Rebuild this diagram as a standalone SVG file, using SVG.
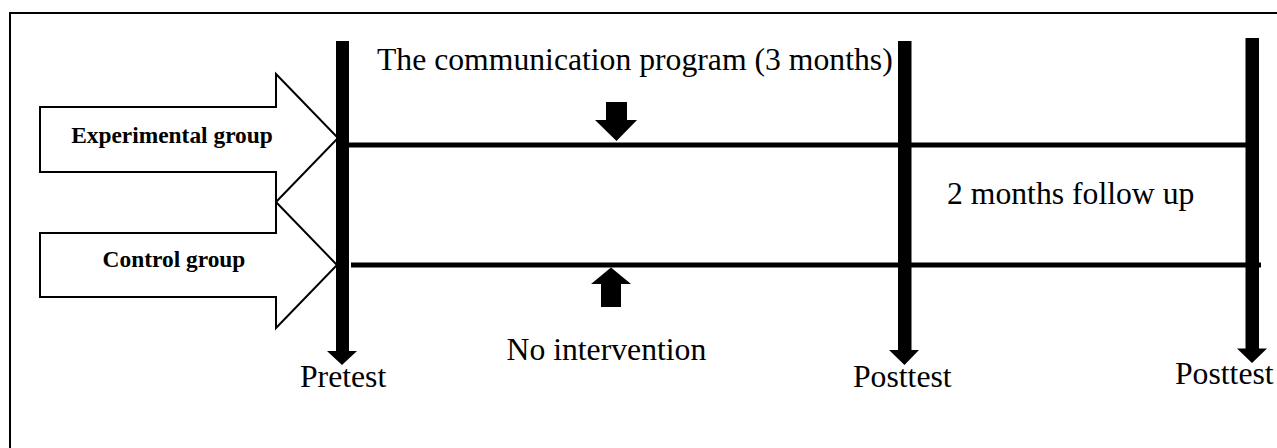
<svg xmlns="http://www.w3.org/2000/svg" width="1277" height="448" viewBox="0 0 1277 448">
<style>
text{font-family:'Liberation Serif','DejaVu Serif',serif;fill:#000}
.reg{font-size:31.7px}
.bold{font-size:23.4px;font-weight:bold}
.blk{fill:#fff;stroke:#000;stroke-width:2;stroke-linejoin:miter}
.bar{fill:#000}
.line{stroke:#000;stroke-width:5;fill:none}
</style>
<rect x="0" y="0" width="1277" height="448" fill="#fff"/>
<path d="M10,448 V13 H1277" fill="none" stroke="#000" stroke-width="2"/>
<g id="experimental-group">
<polygon class="blk" points="40,107 276,107 276,74 338,138 276,202 276,172 40,172"/>
<text class="bold" x="172" y="143" text-anchor="middle" font-family="Liberation Serif, serif">Experimental group</text>
</g>
<g id="control-group">
<polygon class="blk" points="40,233 276,233 276,202 337,265 276,328 276,297 40,297"/>
<text class="bold" x="174" y="266.5" text-anchor="middle" font-family="Liberation Serif, serif">Control group</text>
</g>
<g id="connectors">
<line class="line" x1="349" y1="145" x2="1246" y2="145"/>
<line class="line" x1="351" y1="265" x2="1261" y2="265"/>
<polygon class="bar" points="606,102 627,102 627,120 637,120 616.5,141 595,120 606,120"/>
<polygon class="bar" points="611,267.5 631,284 621,284 621,307 601,307 601,284 591,284"/>
</g>
<g id="pretest">
<rect class="bar" x="336" y="41" width="13" height="311"/>
<polygon class="bar" points="327,351 357,351 342,365"/>
<text class="reg" x="300" y="387" font-family="Liberation Serif, serif">Pretest</text>
</g>
<g id="posttest-1">
<rect class="bar" x="898" y="41" width="13.5" height="310"/>
<polygon class="bar" points="889,350 919,350 904.5,365"/>
<text class="reg" x="853" y="386.5" font-family="Liberation Serif, serif">Posttest</text>
</g>
<g id="posttest-2">
<rect class="bar" x="1245.5" y="38" width="13.5" height="311"/>
<polygon class="bar" points="1237,348.5 1267,348.5 1252,363"/>
<text class="reg" x="1175" y="384" font-family="Liberation Serif, serif">Posttest</text>
</g>
<g id="program-label">
<text class="reg" x="377" y="69.5" font-family="Liberation Serif, serif">The communication program (3 months)</text>
</g>
<g id="followup-label">
<text class="reg" x="947" y="203.5" font-family="Liberation Serif, serif">2 months follow up</text>
</g>
<g id="no-intervention-label">
<text class="reg" x="506.5" y="359.5" font-family="Liberation Serif, serif">No intervention</text>
</g>
</svg>
